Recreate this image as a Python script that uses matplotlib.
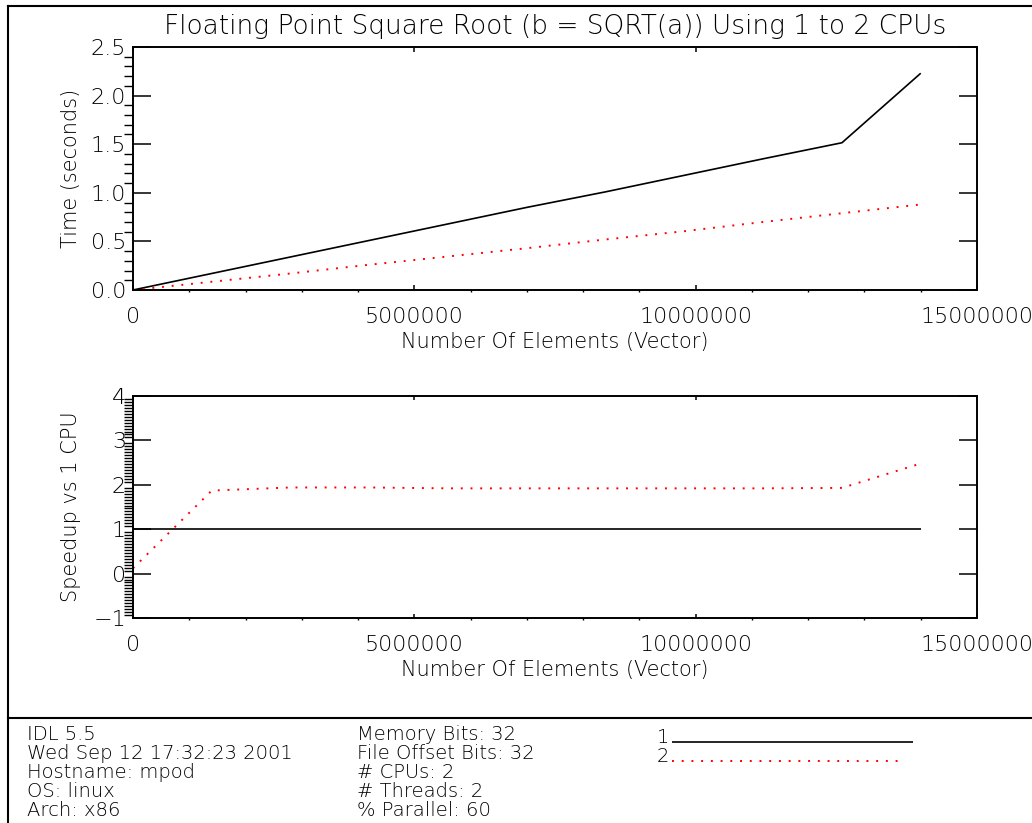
import matplotlib
matplotlib.use('Agg')
import matplotlib.pyplot as plt
from matplotlib.lines import Line2D
from matplotlib.ticker import MultipleLocator, AutoMinorLocator, FuncFormatter

# benchmark results: vector length vs. run time and speedup
n_elements = [0, 1400000, 2800000, 4200000, 5600000, 7000000,
              8400000, 9800000, 11200000, 12600000, 14000000]
time_1cpu = [0.0, 0.17, 0.34, 0.51, 0.68, 0.85, 1.01, 1.18, 1.35, 1.515, 2.23]
time_2cpu = [0.0, 0.085, 0.17, 0.26, 0.345, 0.43, 0.52, 0.605, 0.70, 0.79, 0.88]
speedup_1cpu = [1.0] * 11
speedup_2cpu = [0.12, 1.87, 1.94, 1.94, 1.92, 1.92, 1.92, 1.92, 1.92, 1.93, 2.48]

x_ticks = [0, 5000000, 10000000, 15000000]

footer_left = ['IDL 5.5', 'Wed Sep 12 17:32:23 2001', 'Hostname: mpod',
               'OS: linux', 'Arch: x86']
footer_mid = ['Memory Bits: 32', 'File Offset Bits: 32', '# CPUs: 2',
              '# Threads: 2', '% Parallel: 60']
legend_labels = ['1', '2']

W, H = 1032, 823
FONT = dict(family='DejaVu Sans', weight=200)
TICK_SIZE = 16
LABEL_SIZE = 15
FOOT_SIZE = 14


def fx(px):
    return px / W


def fy(py):
    return 1 - py / H


solid = dict(color='black', lw=1.2, solid_capstyle='butt')
dotted = dict(color='#ff0000', lw=1.4, ls=(0, (1, 4)), dash_capstyle='butt')

fig = plt.figure(figsize=(W / 100, H / 100), dpi=100)
ax1 = fig.add_axes([fx(133), fy(290), fx(977) - fx(133), fy(47) - fy(290)])
ax2 = fig.add_axes([fx(133), fy(618), fx(977) - fx(133), fy(396) - fy(618)])

ax1.plot(n_elements, time_1cpu, **solid)
ax1.plot(n_elements, time_2cpu, **dotted)
ax1.set_ylim(0, 2.5)
ax1.yaxis.set_major_locator(MultipleLocator(0.5))
ax1.yaxis.set_minor_locator(AutoMinorLocator(5))
ax1.yaxis.set_major_formatter(FuncFormatter(lambda v, p: f'{v:.1f}'))
ax1.set_ylabel('Time (seconds)', fontsize=LABEL_SIZE, **FONT)
ax1.set_title('Floating Point Square Root (b = SQRT(a)) Using 1 to 2 CPUs',
              fontsize=19, pad=9.4, **FONT)

ax2.plot(n_elements, speedup_1cpu, **solid)
ax2.plot(n_elements, speedup_2cpu, **dotted)
ax2.set_ylim(-1, 4)
ax2.yaxis.set_major_locator(MultipleLocator(1))
ax2.yaxis.set_minor_locator(AutoMinorLocator(15))
ax2.set_ylabel('Speedup vs 1 CPU', fontsize=LABEL_SIZE, **FONT)

for ax, xlab_y, xlen in ((ax1, -0.172, 3.5), (ax2, -0.188, 3.2)):
    ax.set_xlim(0, 15000000)
    ax.set_xticks(x_ticks)
    ax.xaxis.set_minor_locator(AutoMinorLocator(5))
    ax.xaxis.set_major_formatter(FuncFormatter(lambda v, p: f'{v:.0f}'))
    ax.set_xlabel('Number Of Elements (Vector)', fontsize=LABEL_SIZE, **FONT)
    ax.xaxis.set_label_coords(0.5, xlab_y)
    ax.yaxis.set_label_coords(-0.0616, 0.5)
    ax.tick_params(direction='in', top=True, right=True, color='black')
    ax.tick_params(axis='y', which='major', length=13, width=1.1, pad=5)
    ax.tick_params(axis='y', which='minor', length=6.5, width=1.0)
    ax.tick_params(axis='x', which='major', length=xlen, width=1.1, pad=12)
    ax.tick_params(axis='x', which='minor', length=xlen / 2, width=1.0)
    for lab in ax.get_xticklabels() + ax.get_yticklabels():
        lab.set_fontsize(TICK_SIZE)
        lab.set_family(FONT['family'])
        lab.set_weight(FONT['weight'])
    for sp in ax.spines.values():
        sp.set_linewidth(1.4)

# page frame and footer separator
frame = dict(color='black', lw=1.5)
fig.add_artist(Line2D([fx(8), fx(8)], [fy(6), 0], **frame))
fig.add_artist(Line2D([fx(8), 1], [fy(6), fy(6)], **frame))
fig.add_artist(Line2D([fx(8), 1], [fy(718), fy(718)], **frame))

for i, (a, b) in enumerate(zip(footer_left, footer_mid)):
    base = 740.5 + i * 18.8
    fig.text(fx(27), fy(base), a, fontsize=FOOT_SIZE, va='baseline', ha='left', **FONT)
    fig.text(fx(357), fy(base), b, fontsize=FOOT_SIZE, va='baseline', ha='left', **FONT)

# line key
for i, (lab, style, end) in enumerate(zip(legend_labels, (solid, dotted), (913, 904))):
    base = 743 + i * 19
    fig.text(fx(657), fy(base), lab, fontsize=FOOT_SIZE, va='baseline', ha='left', **FONT)
    fig.add_artist(Line2D([fx(672), fx(end)], [fy(base - 1), fy(base - 1)], **style))

fig.savefig('out.png', dpi=100)
